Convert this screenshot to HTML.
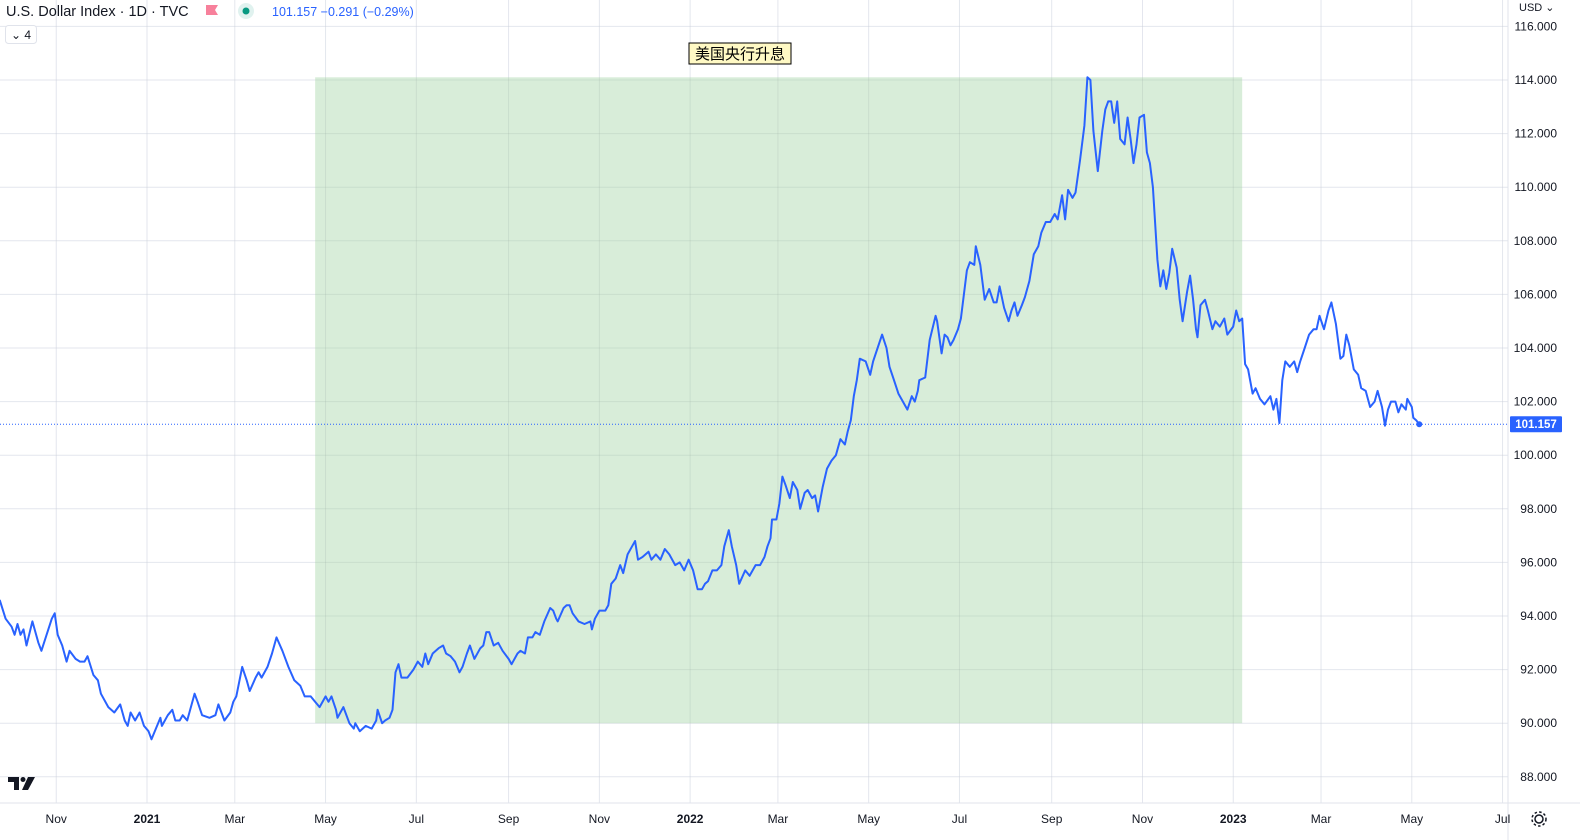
<!DOCTYPE html>
<html><head><meta charset="utf-8"><style>
html,body{margin:0;padding:0;background:#fff;width:1580px;height:840px;overflow:hidden}
svg text{font-family:"Liberation Sans","Noto Sans CJK SC",sans-serif}
</style></head><body>
<svg id="chart" width="1580" height="840" xmlns="http://www.w3.org/2000/svg">
<g id="grid"></g>
<rect id="zone" fill="#c8e6c9" fill-opacity="0.7"></rect>
<g id="regrid"></g>
<line x1="1508" y1="0" x2="1508" y2="840" stroke="#e0e3eb"/>
<line x1="0" y1="803" x2="1580" y2="803" stroke="#e0e3eb"/>
<g id="yaxis"></g>
<g id="xaxis"></g>
<line id="lastline" x1="0" x2="1508" stroke="#2962ff" stroke-dasharray="1,2" stroke-width="1"/>
<path id="series" fill="none" stroke="#2962ff" stroke-width="2" stroke-linejoin="round"/>
<circle id="lastdot" r="3" fill="#2962ff"/>
<g><rect id="tagbg" x="1510" width="52" height="16" rx="1" fill="#2962ff"/><text id="tagtxt" x="1536" text-anchor="middle" font-size="11.5" font-weight="bold" fill="#fff"></text></g>
<g><rect x="689" y="43" width="102" height="21" fill="#fff9c4" stroke="#000" stroke-width="1"/><text x="740" y="59" text-anchor="middle" font-size="15" fill="#000">美国央行升息</text></g>
<text x="6" y="16" font-size="14.5" fill="#131722">U.S. Dollar Index · 1D · TVC</text>
<path d="M206 5 h12 l-3 5 l3 5 h-12z" fill="#f7809b"/>
<circle cx="246" cy="11" r="8" fill="#e0f2ef"/><circle cx="246" cy="11" r="3.5" fill="#089981"/>
<text x="272" y="16" font-size="12.5" fill="#2962ff">101.157  −0.291 (−0.29%)</text>
<g><rect x="5.5" y="25.5" width="31" height="18" rx="3" fill="#fff" stroke="#e0e3eb"/><text x="11" y="39" font-size="12" fill="#131722">⌄ 4</text></g>
<text x="1519" y="11" font-size="11" fill="#131722">USD ⌄</text>
<g fill="#131722"><path d="M8 777 h11 v13 h-5 v-8 h-6z"/><circle cx="23" cy="779.5" r="2.5"/><path d="M28 777 h7 l-7 13 h-6z"/></g>
<g fill="none" stroke="#131722" stroke-width="1.5"><circle cx="1539" cy="819" r="4"/><circle cx="1539" cy="819" r="7" stroke-dasharray="2.5,2.2"/></g>
</svg>
<script>
const days=[-99,-95,-91,-89,-87,-85,-83,-81,-77,-73,-71,-64,-62,-60,-57,-54,-52,-48,-45,-42,-40,-36,-33,-31,-26,-22,-18,-15,-13,-11,-8,-5,-2,1,3,9,10,14,17,19,22,24,27,31,32,34,37,42,46,48,52,56,58,60,64,67,69,73,75,77,81,84,87,91,95,99,103,106,110,113,116,120,122,124,127,128,130,132,136,139,140,143,147,151,154,155,158,160,163,165,167,169,171,175,179,182,185,187,189,192,196,199,201,204,207,210,212,215,217,220,224,226,228,230,233,236,239,243,245,249,251,254,256,259,261,264,267,271,273,275,276,280,282,284,286,290,294,298,299,301,304,308,310,312,315,318,320,323,326,328,330,333,337,339,342,345,348,351,355,358,361,364,367,370,373,375,377,380,383,386,388,391,393,396,398,402,405,409,412,415,417,419,420,423,425,427,429,432,434,437,439,442,444,447,449,451,454,457,460,463,466,469,471,473,475,477,479,483,486,488,491,494,497,499,502,505,508,511,514,516,518,519,523,526,530,531,534,536,538,540,542,545,547,549,551,553,556,557,560,563,566,569,571,573,576,579,581,583,585,588,590,593,596,599,601,604,607,610,612,615,617,619,622,624,627,630,632,634,636,639,642,644,646,648,650,652,654,657,659,661,663,665,667,670,672,674,676,679,681,683,685,687,689,692,694,696,699,701,703,705,706,708,711,713,716,718,721,724,726,730,732,734,736,738,740,743,745,748,751,755,757,759,761,763,765,768,771,773,775,778,781,784,786,788,791,794,796,799,802,804,806,808,811,814,816,819,822,825,827,830,832,834,836,839,841,843,846,847,850,851,853,855];
const values=[94.6,93.9,93.6,93.3,93.7,93.3,93.5,92.9,93.8,93.0,92.7,93.9,94.1,93.3,92.9,92.3,92.7,92.4,92.3,92.3,92.5,91.8,91.6,91.1,90.6,90.4,90.7,90.1,89.9,90.4,90.1,90.4,89.9,89.7,89.4,90.2,89.9,90.3,90.5,90.1,90.1,90.3,90.1,90.9,91.1,90.8,90.3,90.2,90.3,90.7,90.1,90.4,90.8,91.0,92.1,91.6,91.2,91.7,91.9,91.7,92.1,92.6,93.2,92.7,92.1,91.6,91.4,91.0,91.0,90.8,90.6,91.0,90.8,91.0,90.5,90.2,90.4,90.6,90.0,89.8,90.0,89.7,89.9,89.8,90.1,90.5,90.0,90.1,90.2,90.5,91.9,92.2,91.7,91.7,92.0,92.3,92.1,92.6,92.2,92.6,92.8,92.9,92.6,92.5,92.3,91.9,92.1,92.6,92.9,92.4,92.8,92.9,93.4,93.4,92.9,93.0,92.7,92.4,92.2,92.6,92.7,92.6,93.2,93.2,93.4,93.3,93.8,94.3,94.2,93.9,93.8,94.3,94.4,94.4,94.1,93.8,93.7,93.8,93.5,93.9,94.2,94.2,94.4,95.2,95.4,95.9,95.6,96.3,96.6,96.8,96.1,96.2,96.4,96.1,96.3,96.1,96.5,96.3,95.9,96.0,95.7,96.1,95.7,95.0,95.0,95.2,95.3,95.7,95.7,95.9,96.6,97.2,96.6,95.9,95.2,95.7,95.5,95.9,95.9,96.2,96.6,96.9,97.6,97.6,98.2,99.2,98.9,98.4,99.0,98.7,98.0,98.6,98.7,98.4,98.5,97.9,98.8,99.5,99.8,100.0,100.6,100.4,100.9,101.3,102.2,102.8,103.6,103.5,103.0,103.5,104.0,104.5,104.0,103.3,102.8,102.3,102.0,101.7,102.2,102.0,102.4,102.8,102.9,104.3,105.2,105.0,103.8,104.5,104.4,104.1,104.3,104.7,105.1,106.0,106.9,107.2,107.1,107.8,107.1,105.8,106.2,105.7,105.7,106.3,105.5,105.0,105.4,105.7,105.2,105.6,105.9,106.5,107.5,107.8,108.3,108.7,108.7,109.0,108.8,109.7,108.8,109.9,109.6,109.8,111.0,112.3,114.1,114.0,112.1,110.6,112.1,112.9,113.2,113.2,112.4,113.2,111.8,111.6,112.6,111.8,110.9,111.6,112.6,112.7,111.3,110.9,110.0,107.3,106.3,106.9,106.2,106.8,107.7,107.0,105.8,105.0,106.1,106.7,105.8,104.7,104.4,105.6,105.8,105.4,104.7,105.0,104.8,105.1,104.5,104.8,105.4,105.0,105.1,103.4,103.2,102.3,102.5,102.1,101.9,102.2,101.7,102.1,101.2,102.8,103.5,103.3,103.5,103.1,103.5,104.0,104.5,104.7,104.7,105.2,104.7,105.4,105.7,104.9,103.6,103.7,104.5,104.1,103.2,103.0,102.5,102.4,101.8,102.0,102.4,101.8,101.1,101.7,102.0,102.0,101.6,101.9,101.7,102.1,101.8,101.4,101.3,101.157];
const tickDays=[-61,0,59,120,181,243,304,365,424,485,546,608,669,730,789,850,911];
const tickLabels=["Nov","2021","Mar","May","Jul","Sep","Nov","2022","Mar","May","Jul","Sep","Nov","2023","Mar","May","Jul"];
const yTicks=[88,90,92,94,96,98,100,102,104,106,108,110,112,114,116];
const zoneStartDay=113, zoneEndDay=736, zoneLow=90.0, zoneHigh=114.1;
const lastPrice=101.157;

const X=d=>147+d*1.488;
const Y=v=>80+(114-v)*26.8;
const NS="http://www.w3.org/2000/svg";
function mk(tag,parent,attrs){const e=document.createElementNS(NS,tag);for(const k in attrs)e.setAttribute(k,attrs[k]);parent.appendChild(e);return e;}
const grid=document.getElementById('grid'),regrid=document.getElementById('regrid');
const ya=document.getElementById('yaxis'),xa=document.getElementById('xaxis');
[grid,regrid].forEach((g,gi)=>{
  yTicks.forEach(v=>{const l=mk('line',g,{x1:0,x2:1508,y1:Y(v),y2:Y(v),stroke:gi?'rgba(0,0,0,0.05)':'#f0f3fa'});
    
    });
  tickDays.forEach(d=>{const l=mk('line',g,{x1:X(d),x2:X(d),y1:0,y2:803,stroke:gi?'rgba(0,0,0,0.05)':'#f0f3fa'});
    
    });
});
yTicks.forEach(v=>{const t=mk('text',ya,{x:1557,y:Y(v)+4,'text-anchor':'end','font-size':12,fill:'#131722'});t.textContent=v.toFixed(3);
  
  });
tickDays.forEach((d,i)=>{const bold=/^\d/.test(tickLabels[i]);const t=mk('text',xa,{x:X(d),y:823,'text-anchor':'middle','font-size':12,fill:'#131722','font-weight':bold?'bold':'normal'});t.textContent=tickLabels[i];
  
  });
const z=document.getElementById('zone');
z.setAttribute('x',X(zoneStartDay));z.setAttribute('width',X(zoneEndDay)-X(zoneStartDay));
z.setAttribute('y',Y(zoneHigh));z.setAttribute('height',Y(zoneLow)-Y(zoneHigh));
document.getElementById('series').setAttribute('d',days.map((d,i)=>(i?'L':'M')+X(d).toFixed(1)+' '+Y(values[i]).toFixed(1)).join(''));
const ly=Y(lastPrice);
const ll=document.getElementById('lastline');ll.setAttribute('y1',ly);ll.setAttribute('y2',ly);
const dot=document.getElementById('lastdot');dot.setAttribute('cx',X(days[days.length-1]));dot.setAttribute('cy',ly);
document.getElementById('tagbg').setAttribute('y',ly-8);
const tt=document.getElementById('tagtxt');tt.setAttribute('y',ly+4);tt.textContent=lastPrice.toFixed(3);
</script>
</body></html>
